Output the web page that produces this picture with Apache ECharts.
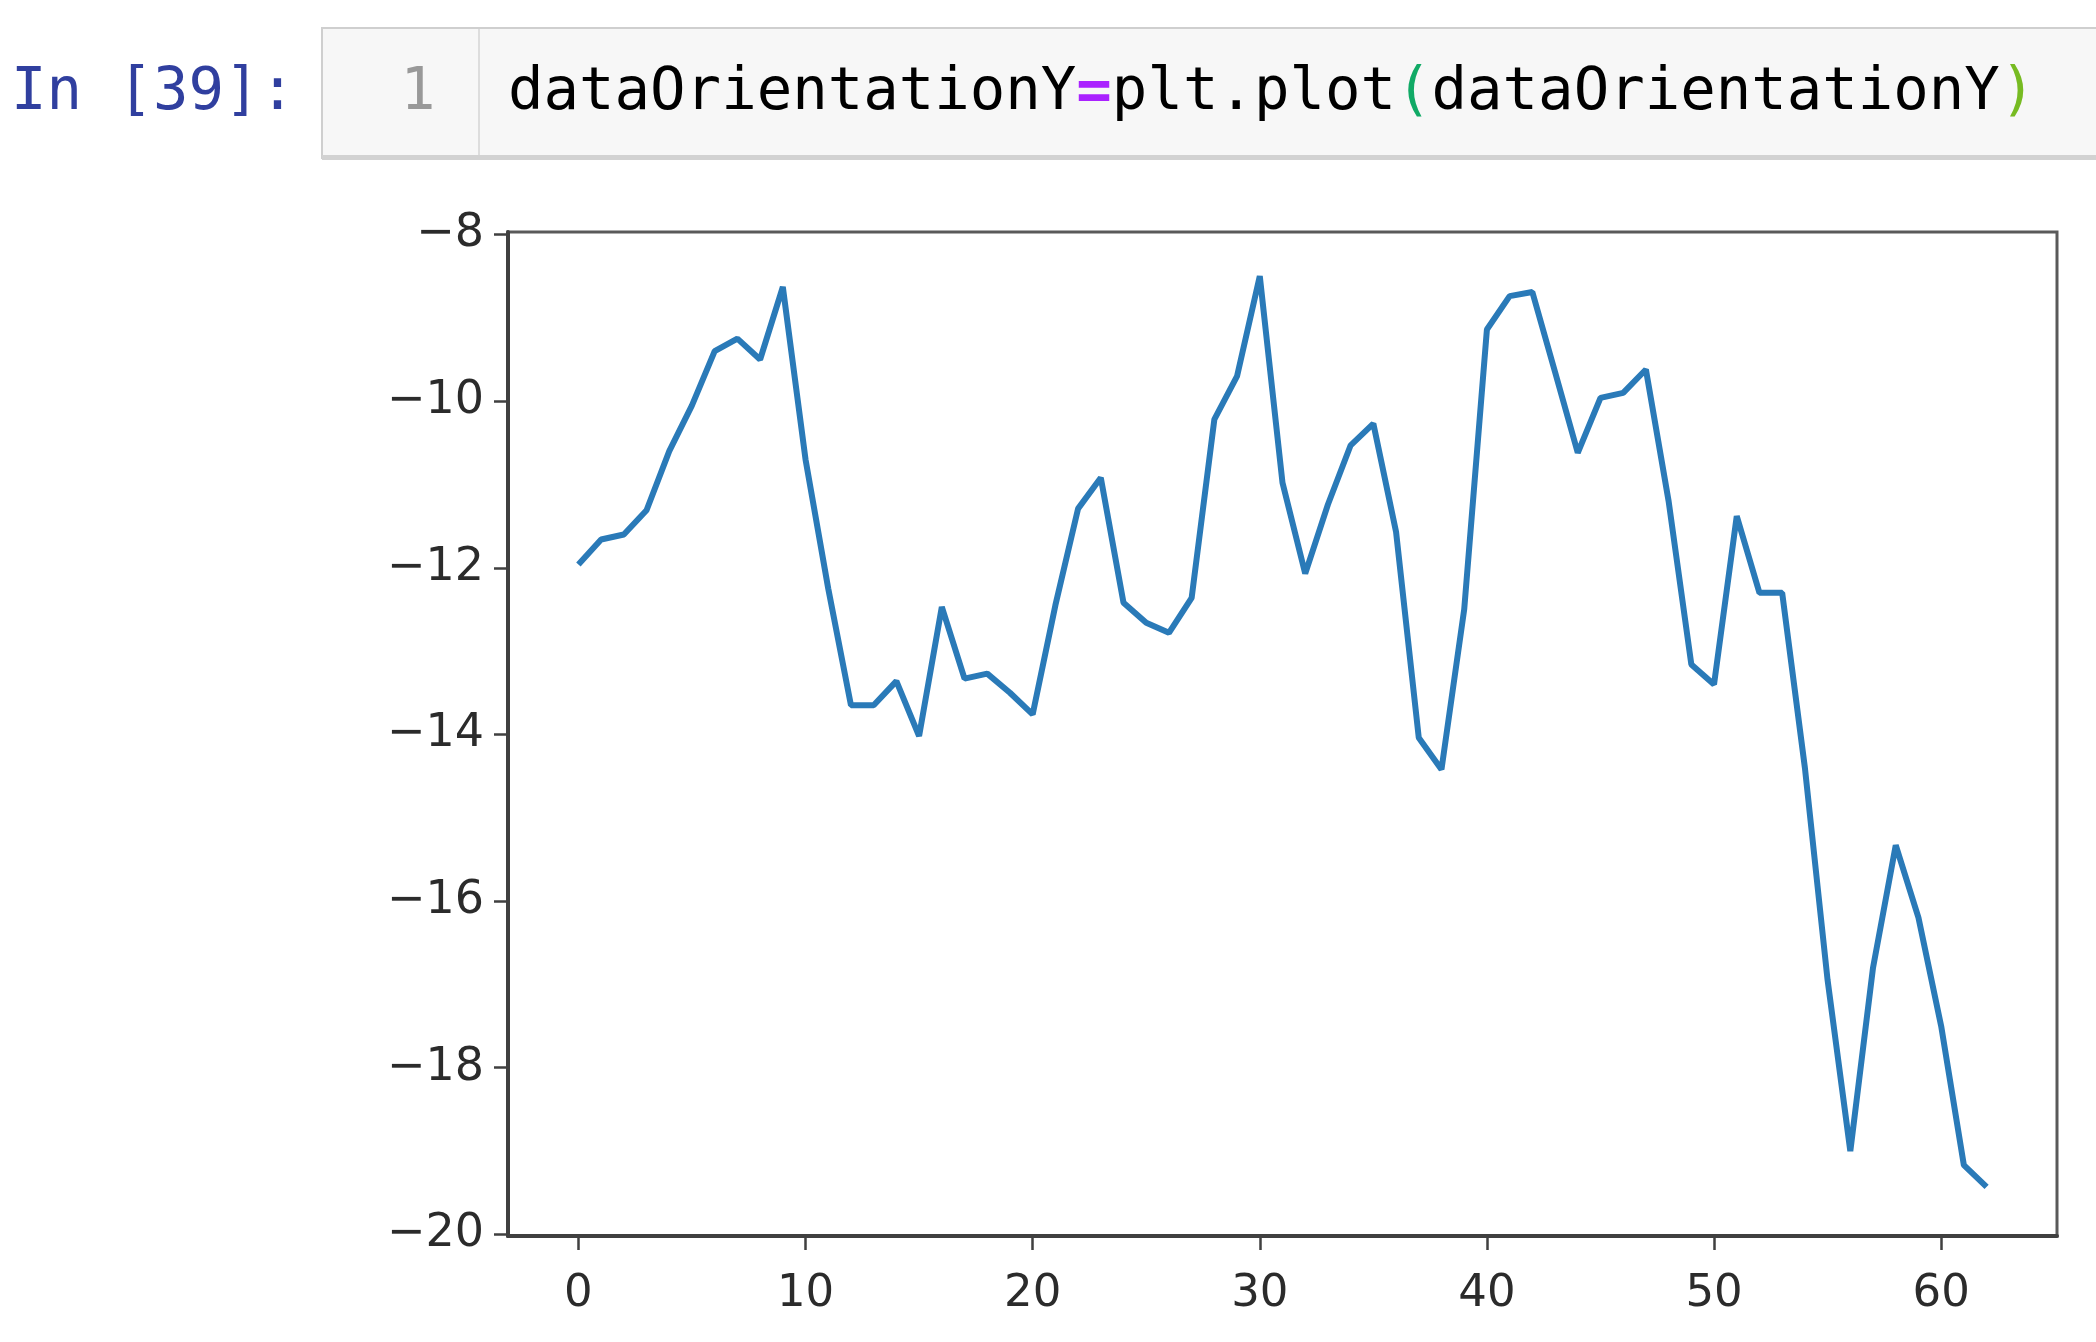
<!DOCTYPE html>
<html>
<head>
<meta charset="utf-8">
<script src="https://cdn.jsdelivr.net/npm/echarts@6/dist/echarts.min.js"></script>
<style>
  html, body { margin: 0; padding: 0; background: #fff; }
  #chart { width: 2096px; height: 1342px; }
</style>
</head>
<body>
<div id="chart"></div>
<script>
// values, index 0..62
const orientationY = [
  -11.96, -11.66, -11.60, -11.31, -10.60, -10.05, -9.40, -9.25, -9.50, -8.63,
  -10.70, -12.25, -13.65, -13.65, -13.36, -14.02, -12.47, -13.33, -13.27, -13.50,
  -13.76, -12.45, -11.29, -10.92, -12.42, -12.66, -12.78, -12.36, -10.22, -9.70,
  -8.50, -10.98, -12.07, -11.24, -10.53, -10.27, -11.57, -14.04, -14.42, -12.50,
  -9.14, -8.74, -8.69, -9.65, -10.62, -9.96, -9.90, -9.62, -11.20, -13.16,
  -13.40, -11.38, -12.30, -12.30, -14.40, -16.95, -19.00, -16.80, -15.33, -16.20,
  -17.50, -19.17, -19.43
];
const xTicks = [0, 10, 20, 30, 40, 50, 60];
const yTicks = [-20, -18, -16, -14, -12, -10, -8];

const chart = echarts.init(document.getElementById('chart'));

const mono = '"DejaVu Sans Mono", "Liberation Mono", monospace';

chart.setOption({
  animation: false,
  backgroundColor: '#fff',
  grid: {
    left: 508,
    top: 232,
    right: 39,
    bottom: 106,
    show: true,
    borderColor: '#5a5a5a',
    borderWidth: 3
  },
  xAxis: {
    type: 'value',
    min: -3.1,
    max: 65.1,
    splitLine: { show: false },
    axisLine: { show: true, onZero: false, lineStyle: { color: '#404040', width: 4 } },
    axisTick: {
      show: true, inside: false, length: 14, customValues: xTicks,
      lineStyle: { color: '#404040', width: 2.5 }
    },
    axisLabel: {
      customValues: xTicks,
      margin: 36,
      color: '#2b2b2b',
      fontFamily: '"DejaVu Sans"',
      fontSize: 45
    }
  },
  yAxis: {
    type: 'value',
    min: -20.02,
    max: -7.97,
    splitLine: { show: false },
    axisLine: { show: true, onZero: false, lineStyle: { color: '#404040', width: 4 } },
    axisTick: {
      show: true, inside: false, length: 14, customValues: yTicks,
      lineStyle: { color: '#404040', width: 2.5 }
    },
    axisLabel: {
      customValues: yTicks,
      margin: 24,
      color: '#2b2b2b',
      fontFamily: '"DejaVu Sans"',
      fontSize: 46,
      formatter: v => String(v).replace('-', '\u2212')
    }
  },
  series: [{
    type: 'line',
    data: orientationY.map((v, i) => [i, v]),
    showSymbol: false,
    symbol: 'none',
    lineStyle: { color: '#2a7ab8', width: 6 },
    z: 3
  }],
  graphic: [
    // input cell box
    {
      type: 'rect',
      shape: { x: 322, y: 28, width: 1800, height: 130 },
      style: { fill: '#f7f7f7', stroke: '#cfcfcf', lineWidth: 2 }
    },
    {
      type: 'rect',
      shape: { x: 322, y: 155, width: 1800, height: 5 },
      style: { fill: '#d2d2d2' }
    },
    {
      type: 'line',
      shape: { x1: 479, y1: 29, x2: 479, y2: 155 },
      style: { stroke: '#dddddd', lineWidth: 2 }
    },
    {
      type: 'text',
      style: {
        x: 11, y: 94, text: 'In [39]:', fill: '#303F9F',
        font: '59px ' + mono, verticalAlign: 'middle'
      }
    },
    {
      type: 'text',
      style: {
        x: 418, y: 94, text: '1', fill: '#999999', align: 'center',
        font: '58px ' + mono, verticalAlign: 'middle'
      }
    },
    {
      type: 'text',
      style: {
        x: 508, y: 94,
        text: '{n|dataOrientationY}{op|=}{n|plt.plot}{pa|(}{n|dataOrientationY}{pb|)}',
        font: '59px ' + mono,
        verticalAlign: 'middle',
        rich: {
          n: { fill: '#000', fontFamily: mono, fontSize: 59 },
          op: { fill: '#AA22FF', fontFamily: mono, fontSize: 59, fontWeight: 'bold' },
          pa: { fill: '#11aa66', fontFamily: mono, fontSize: 59 },
          pb: { fill: '#77bb22', fontFamily: mono, fontSize: 59 }
        }
      }
    }
  ]
});
</script>
</body>
</html>
